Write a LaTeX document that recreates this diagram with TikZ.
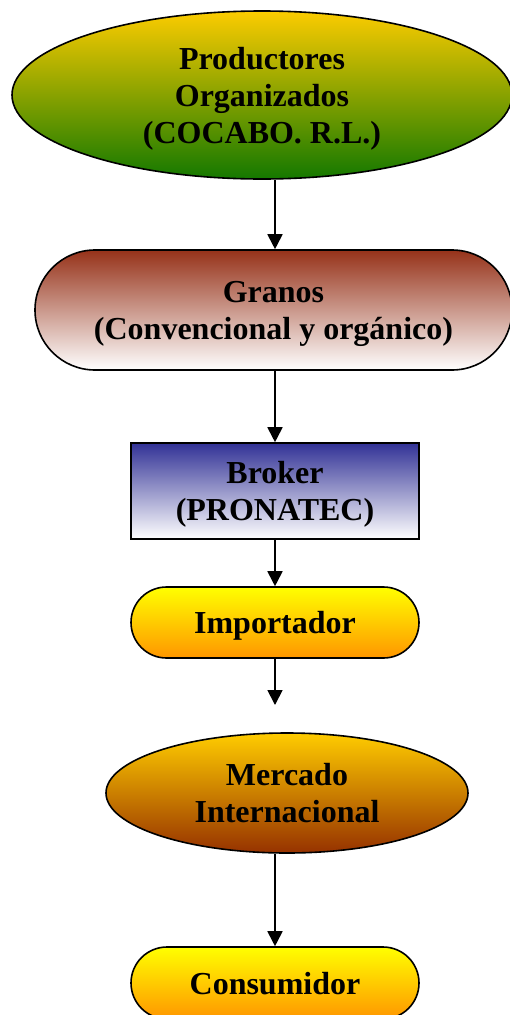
\documentclass[tikz,border=0pt]{standalone}
\usepackage{fontspec}
\setmainfont{Liberation Serif}
\usetikzlibrary{arrows.meta,shapes.geometric,shapes.misc}

\begin{document}
\begin{tikzpicture}[x=1pt,y=-1pt]
  \tikzstyle{Box}=[draw=black, line width=1.6pt, align=center, inner sep=0pt,
                   font=\fontsize{32}{37}\selectfont\bfseries]
  \tikzstyle{Flecha}=[line width=1.8pt, -{Triangle[length=15pt,width=15pt]}]
  \useasboundingbox (0,0) rectangle (509,1015);
 \node[Box, ellipse, minimum width=500pt, minimum height=168pt, text depth=-7pt,
       top color={rgb,255:red,252;green,204;blue,0},
       bottom color={rgb,255:red,20;green,120;blue,0}] (prod) at (262,95)
       {Productores\\Organizados\\(COCABO. R.L.)};
 \node[Box, rounded rectangle, minimum width=477pt, minimum height=120pt, text depth=-9pt,
       top color={rgb,255:red,150;green,50;blue,25},
       bottom color=white] (granos) at (273.5,310)
       {Granos\\(Convencional y orgánico)};
 \node[Box, rectangle, minimum width=288pt, minimum height=96pt, text depth=-1pt,
       top color={rgb,255:red,50;green,50;blue,150},
       bottom color=white] (broker) at (275,491)
       {Broker\\(PRONATEC)};
 \node[Box, rounded rectangle, minimum width=288pt, minimum height=71pt, text depth=0pt,
       top color=yellow,
       bottom color={rgb,255:red,255;green,150;blue,0}] (imp) at (275,622.5)
       {Importador};
 \node[Box, ellipse, minimum width=362pt, minimum height=120pt, text depth=-8pt,
       top color={rgb,255:red,255;green,204;blue,0},
       bottom color={rgb,255:red,150;green,50;blue,0}] (merc) at (287,793)
       {Mercado\\Internacional};
 \node[Box, rounded rectangle, minimum width=288pt, minimum height=72pt, text depth=-6pt,
       top color=yellow,
       bottom color={rgb,255:red,255;green,150;blue,0}] (cons) at (275,983)
       {Consumidor};
 \coordinate (hueco) at (275,705);
 \draw[Flecha] (broker.north |- prod.south) -- (broker.north |- granos.north);
 \draw[Flecha] (broker.north |- granos.south) -- (broker.north);
 \draw[Flecha] (broker.south) -- (imp.north);
 \draw[Flecha] (imp.south) -- (hueco);
 \draw[Flecha] (cons.north |- merc.south) -- (cons.north);
\end{tikzpicture}
\end{document}
